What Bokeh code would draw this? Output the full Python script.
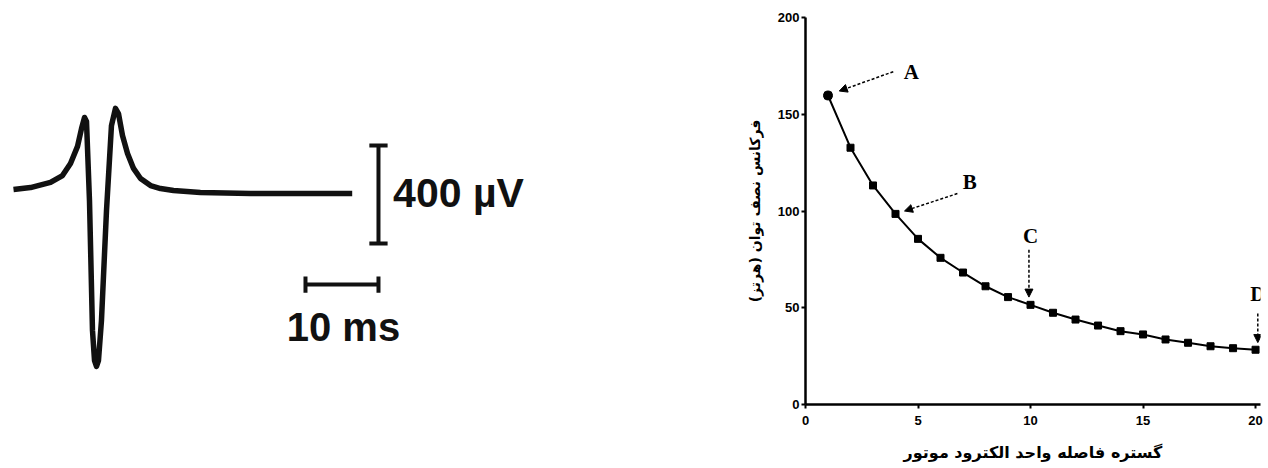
from bokeh.plotting import figure
from bokeh.models import Range1d, Arrow, NormalHead, Label
from bokeh.layouts import row
from bokeh.core.properties import value
from bokeh.embed import file_html
from bokeh.resources import INLINE

# ---- left panel: motor unit potential waveform (ms, µV) ----
wave_t_ms = [0, 2.33, 5.07, 6.71, 7.81, 8.77, 9.32, 9.73, 10.0, 10.41, 10.82, 11.1,
             11.37, 11.64, 12.05, 12.74, 13.42, 13.97, 14.38, 14.93, 15.62, 16.44,
             17.4, 18.77, 20.14, 21.92, 25.6, 32.5, 46.4]
wave_uV = [4, 12, 33, 61, 110, 180, 253, 298, 282, -41, -571, -694,
           -718, -694, -531, -82, 265, 335, 314, 224, 151, 90,
           49, 20, 8, 0, -8, -12, -12]
amp_bar_uV = 400
time_bar_ms = 10
amp_label = "400 µV"
time_label = "10 ms"

# ---- right panel: half-power frequency vs electrode distance ----
dist = list(range(1, 21))
freq = [159.7, 132.7, 113.2, 98.5, 85.6, 75.8, 68.2, 61.1, 55.5, 51.5,
        47.4, 43.9, 40.8, 37.9, 36.2, 33.6, 31.9, 30.1, 29.1, 28.3]
x_ticks = [0, 5, 10, 15, 20]
y_ticks = [0, 50, 100, 150, 200]
x_title = "گستره فاصله واحد الکترود موتور"
y_title = "فرکانس نصف توان (هرتز)"
marker_names = ["A", "B", "C", "D"]
marker_x = [4.7, 7.3, 10.0, 20.1]
marker_y = [172, 115, 87, 57]
arrow_x0 = [3.9, 6.75, 9.93, 20.1]
arrow_y0 = [172, 109, 80, 47]
arrow_x1 = [1.5, 4.4, 9.93, 20.1]
arrow_y1 = [162, 100, 55.5, 32]

# ---------------- left figure ----------------
p1 = figure(width=738, height=468, x_range=Range1d(-1.781, 99.32),
            y_range=Range1d(-873.5, 706.1), output_backend="svg",
            toolbar_location=None, x_axis_type=None, y_axis_type=None,
            min_border=0)
p1.grid.visible = False
p1.outline_line_color = None
p1.line(wave_t_ms, wave_uV, line_width=5.5, line_color="#111111", line_join="round")

bx = 50.0
by0, by1 = -216, -216 + amp_bar_uV
p1.segment(x0=[bx, bx - 1.25, bx - 1.25], y0=[by0, by0, by1],
           x1=[bx, bx + 1.25, bx + 1.25], y1=[by1, by0, by1],
           line_width=4, line_color="#111111")
hy = -384
hx0, hx1 = 40.0, 40.0 + time_bar_ms
p1.segment(x0=[hx0, hx0, hx1], y0=[hy, hy - 33, hy - 33],
           x1=[hx1, hx0, hx1], y1=[hy, hy + 33, hy + 33],
           line_width=4, line_color="#111111")
p1.text(x=[52.0], y=[-12], text=[amp_label], text_font=value("Liberation Sans"),
        text_font_style="bold", text_font_size="41px", text_color="#111111",
        text_baseline="middle", text_align="left")
p1.text(x=[45.2], y=[-559], text=[time_label], text_font=value("Liberation Sans"),
        text_font_style="bold", text_font_size="40px", text_color="#111111",
        text_baseline="middle", text_align="center")

# ---------------- right figure ----------------
p2 = figure(width=530, height=468, x_range=Range1d(0, 20.22),
            y_range=Range1d(0, 200), output_backend="svg",
            toolbar_location=None, min_border_left=67, min_border_right=8,
            min_border_top=17, min_border_bottom=64)
p2.grid.visible = False
p2.outline_line_color = None
for ax in (p2.xaxis[0], p2.yaxis[0]):
    ax.axis_line_width = 2.5
    ax.axis_line_color = "black"
    ax.major_tick_line_width = 2
    ax.major_tick_line_color = "black"
    ax.major_tick_out = 4
    ax.major_tick_in = 0
    ax.minor_tick_line_color = None
    ax.major_label_text_font = "Liberation Sans"
    ax.major_label_text_font_style = "bold"
    ax.major_label_text_font_size = "13px"
    ax.major_label_text_color = "black"
    ax.axis_label_text_font = "DejaVu Sans"
    ax.axis_label_text_font_style = "bold"
    ax.axis_label_text_color = "black"
p2.xaxis.axis_label_text_font_size = "16px"
p2.yaxis.axis_label_text_font_size = "14px"
p2.xaxis.ticker = x_ticks
p2.yaxis.ticker = y_ticks
p2.xaxis.axis_label = x_title
p2.yaxis.axis_label = y_title
p2.xaxis.major_label_standoff = 7
p2.yaxis.major_label_standoff = 2
p2.xaxis.axis_label_standoff = 15
p2.yaxis.axis_label_standoff = 12

p2.line(dist, freq, line_width=2, line_color="black")
p2.scatter(dist, freq, marker="square", size=7, color="black")
p2.scatter(dist[:1], freq[:1], marker="circle", size=9, color="black")

for i in range(len(marker_names)):
    p2.add_layout(Arrow(end=NormalHead(size=8, fill_color="black", line_color="black"),
                        x_start=arrow_x0[i], y_start=arrow_y0[i],
                        x_end=arrow_x1[i], y_end=arrow_y1[i],
                        line_dash="3 2", line_width=1.5, line_color="black"))
for i in range(len(marker_names)):
    p2.add_layout(Label(x=marker_x[i], y=marker_y[i], text=marker_names[i],
                        text_font="Liberation Serif", text_font_style="bold",
                        text_font_size="21px", text_color="black",
                        text_align="center", text_baseline="middle"))

layout = row(p1, p2)
open("out.html", "w").write(file_html(layout, INLINE))
